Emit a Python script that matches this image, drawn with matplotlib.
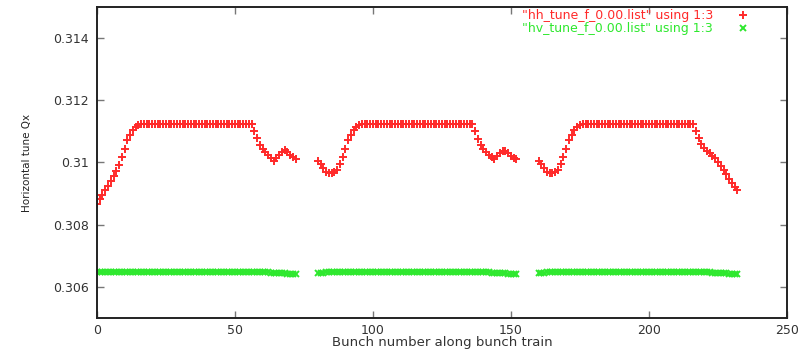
import numpy as np
import matplotlib
matplotlib.use("Agg")
import matplotlib.pyplot as plt

# Bunch numbers of the three trains (73 bunches each, 80-bunch spacing)
train1_bunch = list(range(0, 73))
train2_bunch = list(range(80, 153))
train3_bunch = list(range(160, 233))

# Horizontal tune Qx, "hh" kick
hh_train1 = [
    0.30867, 0.30883, 0.30896, 0.30910, 0.30925, 0.30940, 0.30956, 0.30974,
    0.30993, 0.31017, 0.31044, 0.31071, 0.31088, 0.31103, 0.31115, 0.31122,
    0.31125, 0.31125, 0.31125, 0.31125, 0.31125, 0.31125, 0.31125, 0.31125,
    0.31125, 0.31125, 0.31125, 0.31125, 0.31125, 0.31125, 0.31125, 0.31125,
    0.31125, 0.31125, 0.31125, 0.31125, 0.31125, 0.31125, 0.31125, 0.31125,
    0.31125, 0.31125, 0.31125, 0.31125, 0.31125, 0.31125, 0.31125, 0.31125,
    0.31125, 0.31125, 0.31125, 0.31125, 0.31125, 0.31125, 0.31125, 0.31125,
    0.31125, 0.31100, 0.31078, 0.31057, 0.31044, 0.31033, 0.31023, 0.31014,
    0.31006, 0.31014, 0.31025, 0.31035, 0.31039, 0.31033, 0.31025, 0.31017,
    0.31012,
]
hh_train2 = [
    0.31004, 0.30994, 0.30981, 0.30970, 0.30966, 0.30965, 0.30968, 0.30975,
    0.30994, 0.31017, 0.31044, 0.31071, 0.31088, 0.31103, 0.31115, 0.31122,
    0.31125, 0.31125, 0.31125, 0.31125, 0.31125, 0.31125, 0.31125, 0.31125,
    0.31125, 0.31125, 0.31125, 0.31125, 0.31125, 0.31125, 0.31125, 0.31125,
    0.31125, 0.31125, 0.31125, 0.31125, 0.31125, 0.31125, 0.31125, 0.31125,
    0.31125, 0.31125, 0.31125, 0.31125, 0.31125, 0.31125, 0.31125, 0.31125,
    0.31125, 0.31125, 0.31125, 0.31125, 0.31125, 0.31125, 0.31125, 0.31125,
    0.31125, 0.31100, 0.31077, 0.31057, 0.31044, 0.31035, 0.31025, 0.31017,
    0.31011, 0.31020, 0.31030, 0.31038, 0.31036, 0.31029, 0.31021, 0.31015,
    0.31011,
]
hh_train3 = [
    0.31004, 0.30994, 0.30981, 0.30970, 0.30966, 0.30965, 0.30968, 0.30975,
    0.30994, 0.31017, 0.31044, 0.31071, 0.31088, 0.31103, 0.31115, 0.31122,
    0.31125, 0.31125, 0.31125, 0.31125, 0.31125, 0.31125, 0.31125, 0.31125,
    0.31125, 0.31125, 0.31125, 0.31125, 0.31125, 0.31125, 0.31125, 0.31125,
    0.31125, 0.31125, 0.31125, 0.31125, 0.31125, 0.31125, 0.31125, 0.31125,
    0.31125, 0.31125, 0.31125, 0.31125, 0.31125, 0.31125, 0.31125, 0.31125,
    0.31125, 0.31125, 0.31125, 0.31125, 0.31125, 0.31125, 0.31125, 0.31125,
    0.31125, 0.31100, 0.31078, 0.31058, 0.31045, 0.31036, 0.31029, 0.31022,
    0.31014, 0.31003, 0.30990, 0.30976, 0.30962, 0.30948, 0.30935, 0.30922,
    0.30910,
]

# Horizontal tune Qx, "hv" kick
hv_train1 = [
    0.30647, 0.30647, 0.30648, 0.30648, 0.30648, 0.30648, 0.30648, 0.30648,
    0.30648, 0.30648, 0.30648, 0.30648, 0.30648, 0.30648, 0.30648, 0.30648,
    0.30648, 0.30648, 0.30648, 0.30648, 0.30648, 0.30648, 0.30648, 0.30648,
    0.30648, 0.30648, 0.30648, 0.30648, 0.30648, 0.30648, 0.30648, 0.30648,
    0.30648, 0.30648, 0.30648, 0.30648, 0.30648, 0.30648, 0.30648, 0.30648,
    0.30648, 0.30648, 0.30648, 0.30648, 0.30648, 0.30648, 0.30648, 0.30648,
    0.30648, 0.30648, 0.30648, 0.30648, 0.30648, 0.30648, 0.30648, 0.30648,
    0.30648, 0.30648, 0.30648, 0.30648, 0.30648, 0.30647, 0.30647, 0.30646,
    0.30646, 0.30645, 0.30645, 0.30644, 0.30644, 0.30643, 0.30643, 0.30642,
    0.30642,
]
hv_train2 = [
    0.30645, 0.30646, 0.30646, 0.30647, 0.30647, 0.30648, 0.30648, 0.30648,
    0.30648, 0.30648, 0.30648, 0.30648, 0.30648, 0.30648, 0.30648, 0.30648,
    0.30648, 0.30648, 0.30648, 0.30648, 0.30648, 0.30648, 0.30648, 0.30648,
    0.30648, 0.30648, 0.30648, 0.30648, 0.30648, 0.30648, 0.30648, 0.30648,
    0.30648, 0.30648, 0.30648, 0.30648, 0.30648, 0.30648, 0.30648, 0.30648,
    0.30648, 0.30648, 0.30648, 0.30648, 0.30648, 0.30648, 0.30648, 0.30648,
    0.30648, 0.30648, 0.30648, 0.30648, 0.30648, 0.30648, 0.30648, 0.30648,
    0.30648, 0.30648, 0.30648, 0.30648, 0.30648, 0.30647, 0.30647, 0.30646,
    0.30646, 0.30645, 0.30645, 0.30644, 0.30644, 0.30643, 0.30643, 0.30642,
    0.30642,
]
hv_train3 = [
    0.30645, 0.30646, 0.30646, 0.30647, 0.30647, 0.30648, 0.30648, 0.30648,
    0.30648, 0.30648, 0.30648, 0.30648, 0.30648, 0.30648, 0.30648, 0.30648,
    0.30648, 0.30648, 0.30648, 0.30648, 0.30648, 0.30648, 0.30648, 0.30648,
    0.30648, 0.30648, 0.30648, 0.30648, 0.30648, 0.30648, 0.30648, 0.30648,
    0.30648, 0.30648, 0.30648, 0.30648, 0.30648, 0.30648, 0.30648, 0.30648,
    0.30648, 0.30648, 0.30648, 0.30648, 0.30648, 0.30648, 0.30648, 0.30648,
    0.30648, 0.30648, 0.30648, 0.30648, 0.30648, 0.30648, 0.30648, 0.30648,
    0.30648, 0.30648, 0.30648, 0.30648, 0.30648, 0.30647, 0.30647, 0.30646,
    0.30646, 0.30645, 0.30645, 0.30644, 0.30644, 0.30643, 0.30643, 0.30642,
    0.30642,
]

x_ticks = [0, 50, 100, 150, 200, 250]
x_tick_labels = ["0", "50", "100", "150", "200", "250"]
y_ticks = [0.306, 0.308, 0.310, 0.312, 0.314]
y_tick_labels = ["0.306", "0.308", "0.31", "0.312", "0.314"]

hh_label = '"hh_tune_f_0.00.list" using 1:3'
hv_label = '"hv_tune_f_0.00.list" using 1:3'

bunch = np.concatenate([train1_bunch, train2_bunch, train3_bunch])
hh = np.concatenate([hh_train1, hh_train2, hh_train3])
hv = np.concatenate([hv_train1, hv_train2, hv_train3])

plt.rcParams["font.family"] = ["DejaVu Sans"]

fig = plt.figure(figsize=(8.08, 3.53), dpi=100)
ax = fig.add_axes([0.120, 0.0992, 0.854, 0.881])

ax.plot(bunch, hh, ls="none", marker="+", ms=5.2, mew=1.4,
        color="#ff2a2a", label=hh_label)
ax.plot(bunch, hv, ls="none", marker="x", ms=4.3, mew=1.4,
        color="#2ee82e", label=hv_label)

ax.set_xlim(0, 250)
ax.set_ylim(0.305, 0.315)
ax.set_xticks(x_ticks)
ax.set_xticklabels(x_tick_labels)
ax.set_yticks(y_ticks)
ax.set_yticklabels(y_tick_labels)

ax.tick_params(direction="in", top=True, right=True, length=5, width=1.0,
               color="#777777", labelsize=9, labelcolor="#333333")
ax.tick_params(axis="y", pad=6)
ax.tick_params(axis="x", pad=4)
for sp in ax.spines.values():
    sp.set_linewidth(1.4)
    sp.set_color("#222222")

ax.set_xlabel("Bunch number along bunch train", fontsize=9.5, color="#333333")
ax.xaxis.label.set_va("center")
ax.xaxis.set_label_coords(0.5, -0.080)

ax.set_ylabel("Horizontal tune Qx", fontsize=7.5, color="#222222",
              family=["Liberation Sans Narrow", "DejaVu Sans"])
ax.yaxis.label.set_va("center")
ax.yaxis.set_label_coords(-0.101, 0.5)

leg = ax.legend(loc="upper right", bbox_to_anchor=(0.958, 1.022),
                frameon=False, markerfirst=False, labelcolor="linecolor",
                fontsize=9, handlelength=1.0, handletextpad=1.9,
                labelspacing=0.0, borderpad=0.2)

fig.savefig("out.png", dpi=100)
